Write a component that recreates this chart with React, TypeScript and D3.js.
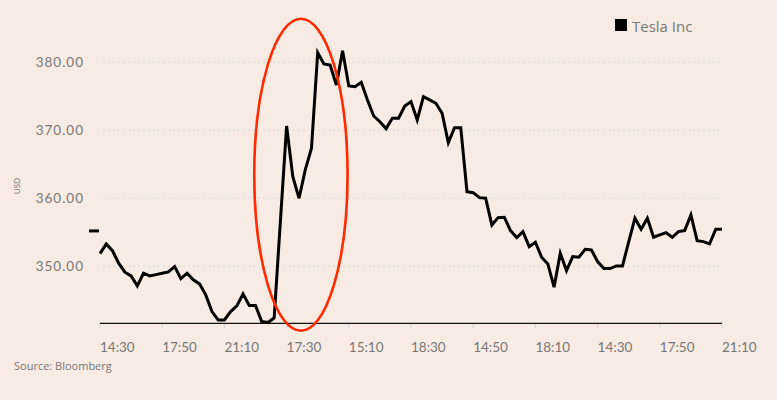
import React from 'react';
import * as d3 from 'd3';

const tickLabels = ['14:30', '17:50', '21:10', '17:30', '15:10', '18:30', '14:50', '18:10', '14:30', '17:50', '21:10'];
const prices = [
  351.85, 353.28, 352.29, 350.44, 349.12, 348.57, 347.1, 348.97, 348.57, 348.76,
  348.97, 349.16, 349.94, 348.18, 348.97, 347.99, 347.4, 345.78, 343.32, 342.1,
  342.1, 343.32, 344.16, 345.93, 344.21, 344.21, 341.85, 341.71, 342.4, 356.6,
  370.63, 363.18, 360.0, 364.16, 367.35, 381.41, 379.75, 379.6, 376.66, 381.71,
  376.51, 376.41, 377.06, 374.46, 372.1, 371.26, 370.24, 371.76, 371.76, 373.57,
  374.21, 371.51, 374.94, 374.46, 373.97, 372.5, 368.18, 370.38, 370.38, 360.97,
  360.82, 360.09, 360.0, 356.07, 357.15, 357.21, 355.24, 354.21, 355.09, 352.88,
  353.53, 351.32, 350.34, 346.91, 351.91, 349.35, 351.41, 351.32, 352.5, 352.4,
  350.68, 349.65, 349.65, 350.04, 350.04, 353.57, 357.06, 355.44, 357.06, 354.26,
  354.6, 354.94, 354.26, 355.09, 355.24, 357.54, 353.76, 353.62, 353.28, 355.44,
  355.44,
];
const previousClose = 355.19;
const yTicks = [350, 360, 370, 380];
const yDomain = [341.6, 386];
const seriesName = 'Tesla Inc';
const sourceText = 'Source: Bloomberg';
const yUnit = 'USD';
// highlighted region (index range and price range) circled by the annotation
const highlightIndex = [24.8, 39.8];
const highlightPrice = [340.5, 386.4];

const W = 777;
const H = 400;
const BG = '#f7ebe3';
const GREY = '#777777';
const FONT = 'Lato, "Open Sans", sans-serif';

export default function App() {
  const x = d3.scaleLinear().domain([0, prices.length - 1]).range([100, 722]);
  const y = d3.scaleLinear().domain(yDomain).range([323.3, 21.5]);
  const line = d3
    .line<number>()
    .x((_, i) => x(i))
    .y((d) => y(d));
  const tickIdx = tickLabels.map((_, i) => i * 10);
  const baseY = y(yDomain[0]);
  const ecx = x((highlightIndex[0] + highlightIndex[1]) / 2);
  const ecy = y((highlightPrice[0] + highlightPrice[1]) / 2);
  const erx = (x(highlightIndex[1]) - x(highlightIndex[0])) / 2;
  const ery = (y(highlightPrice[0]) - y(highlightPrice[1])) / 2;

  return (
    <svg
      width={W}
      height={H}
      style={{ position: 'absolute', left: 0, top: 0, background: BG }}
    >
      <rect x={0} y={0} width={W} height={H} fill={BG} />
      {/* gridlines */}
      {yTicks.map((t) => (
        <line
          key={'g' + t}
          x1={103}
          x2={722}
          y1={y(t)}
          y2={y(t)}
          stroke="#d3dbdb"
          strokeWidth={1}
          strokeDasharray="2,3"
        />
      ))}
      {/* y labels */}
      {yTicks.map((t) => (
        <text
          key={'yl' + t}
          x={84}
          y={y(t) + 4.6}
          textAnchor="end"
          fontFamily={FONT}
          fontSize={13.5}
          letterSpacing={1}
          fill={GREY}
        >
          {t.toFixed(2)}
        </text>
      ))}
      <text
        transform={`translate(19.5, 186) rotate(-90)`}
        textAnchor="middle"
        fontFamily={FONT}
        fontSize={8}
        fill={GREY}
      >
        {yUnit}
      </text>
      {/* x axis */}
      {tickIdx.map((ti) => (
        <line
          key={'t' + ti}
          x1={x(ti)}
          x2={x(ti)}
          y1={baseY}
          y2={baseY + 5}
          stroke="#cfd6d6"
          strokeWidth={1}
        />
      ))}
      <line x1={x(0)} x2={x(prices.length - 1)} y1={baseY} y2={baseY} stroke="#111" strokeWidth={1.2} />
      {tickLabels.map((l, i) => (
        <text
          key={'xl' + i}
          x={x(tickIdx[i])}
          y={352}
          textAnchor="start"
          fontFamily={FONT}
          fontSize={13.5}
          fill={GREY}
        >
          {l}
        </text>
      ))}
      {/* previous close marker */}
      <line x1={89} x2={99} y1={y(previousClose)} y2={y(previousClose)} stroke="#000" strokeWidth={3} />
      {/* price line */}
      <path d={line(prices) || ''} fill="none" stroke="#000" strokeWidth={3} strokeLinejoin="miter" />
      {/* annotation ellipse */}
      <ellipse cx={ecx} cy={ecy} rx={erx} ry={ery} fill="none" stroke="#ff2a00" strokeWidth={2.6} />
      {/* legend */}
      <rect x={615} y={19} width={12} height={12} fill="#000" />
      <text x={632} y={31.5} fontFamily='"Open Sans", sans-serif' fontSize={15} fill={GREY}>
        {seriesName}
      </text>
      {/* source */}
      <text x={14} y={369.5} fontFamily='"Open Sans", sans-serif' fontSize={11} fill={GREY}>
        {sourceText}
      </text>
    </svg>
  );
}
